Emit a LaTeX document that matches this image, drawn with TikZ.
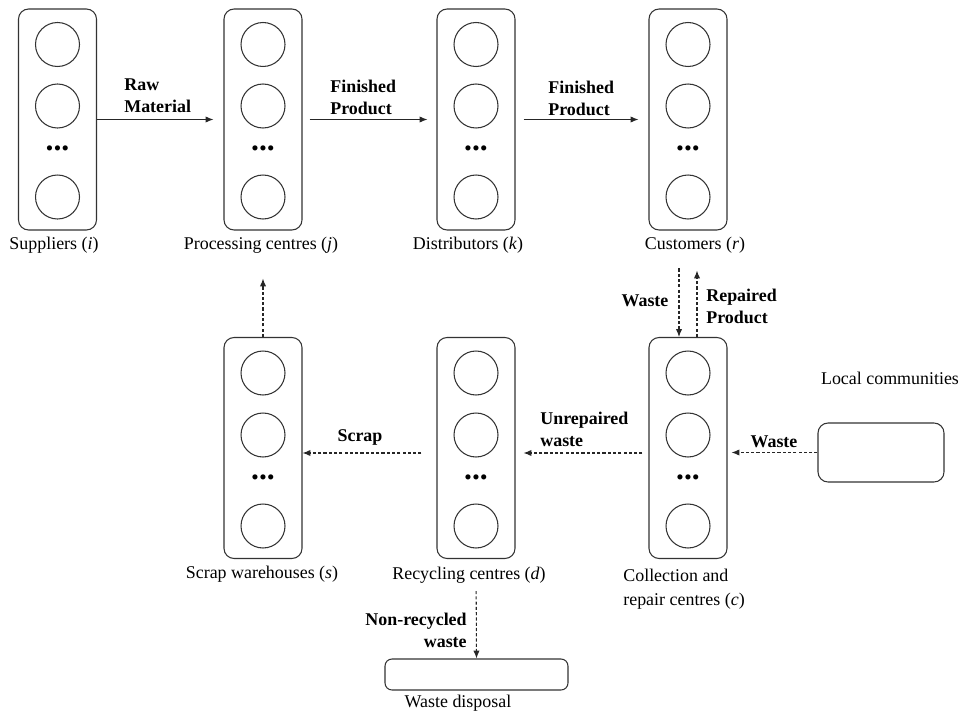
\documentclass[tikz,border=0pt]{standalone}
\usepackage{fontspec}
\setmainfont{Liberation Serif}
\usetikzlibrary{arrows.meta}

\begin{document}
\begin{tikzpicture}[x=0.02cm, y=-0.02cm,
    font=\fontsize{10.2}{12.5}\selectfont,
    colbox/.style={draw=black!80, line width=0.6pt, rounded corners=0.2cm, minimum width=1.56cm, minimum height=4.42cm, inner sep=0pt},
    endbox/.style={draw=black!80, line width=0.6pt, rounded corners=0.2cm, inner sep=0pt},
    slot/.style={circle, draw=black!80, line width=0.6pt, minimum size=0.88cm, inner sep=0pt},
    ellip/.style={font=\fontsize{18}{18}\selectfont\bfseries, inner sep=0pt},
    flowlbl/.style={font=\fontsize{10.2}{12.5}\selectfont\bfseries, align=left, inner sep=0pt},
    celabel/.style={inner sep=0pt, align=left},
    flow/.style={-{Latex[length=4.5pt,width=3.6pt]}, line width=0.6pt, black!85},
    dflow/.style={flow, dash pattern=on 1.8pt off 1.2pt}]
        \useasboundingbox (0,0) rectangle (963,713);

        % Nodes (top row)
        \node[colbox] (sup) at (57.5, 119.5) {};
        \node[slot] (sup1) at (57.5, 44.5) {};
        \node[slot] (sup2) at (57.5, 106) {};
        \node[ellip] (sup3) at (57.5, 148) {...};
        \node[slot] (sup4) at (57.5, 197) {};

        \node[colbox] (pro) at (263, 119.5) {};
        \node[slot] (pro1) at (263, 44.5) {};
        \node[slot] (pro2) at (263, 106) {};
        \node[ellip] (pro3) at (263, 148) {...};
        \node[slot] (pro4) at (263, 197) {};

        \node[colbox] (dis) at (476, 119.5) {};
        \node[slot] (dis1) at (476, 44.5) {};
        \node[slot] (dis2) at (476, 106) {};
        \node[ellip] (dis3) at (476, 148) {...};
        \node[slot] (dis4) at (476, 197) {};

        \node[colbox] (cus) at (688, 119.5) {};
        \node[slot] (cus1) at (688, 44.5) {};
        \node[slot] (cus2) at (688, 106) {};
        \node[ellip] (cus3) at (688, 148) {...};
        \node[slot] (cus4) at (688, 197) {};

        % Nodes (bottom row)
        \node[colbox] (scr) at (263, 448) {};
        \node[slot] (scr1) at (263, 373) {};
        \node[slot] (scr2) at (263, 435) {};
        \node[ellip] (scr3) at (263, 477) {...};
        \node[slot] (scr4) at (263, 526) {};

        \node[colbox] (rec) at (476, 448) {};
        \node[slot] (rec1) at (476, 373) {};
        \node[slot] (rec2) at (476, 435) {};
        \node[ellip] (rec3) at (476, 477) {...};
        \node[slot] (rec4) at (476, 526) {};

        \node[colbox] (col) at (688, 448) {};
        \node[slot] (col1) at (688, 373) {};
        \node[slot] (col2) at (688, 435) {};
        \node[ellip] (col3) at (688, 477) {...};
        \node[slot] (col4) at (688, 526) {};

        \node[endbox, minimum width=2.52cm, minimum height=1.18cm] (loc) at (881, 452.5) {};
        \node[endbox, rounded corners=0.14cm, minimum width=3.66cm, minimum height=0.62cm] (wd) at (476.5, 674.5) {};

        % Edges
        \draw[flow, shorten >=0.2cm] (sup) -- (pro);
        \draw[flow, shorten <=0.14cm, shorten >=0.18cm] (pro) -- (dis);
        \draw[flow, shorten <=0.16cm, shorten >=0.2cm] (dis) -- (cus);
        \draw[dflow, shorten <=0.76cm] ([xshift=-0.18cm]cus.south) -- ([xshift=-0.18cm]col.north);
        \draw[dflow, shorten >=0.8cm] ([xshift=0.18cm]col.north) -- ([xshift=0.18cm]cus.south);
        \draw[dflow, shorten <=0.12cm, shorten >=0.16cm] ([yshift=-0.1cm]col.west) -- ([yshift=-0.1cm]rec.east);
        \draw[dflow, shorten <=0.3cm] ([yshift=-0.1cm]rec.west) -- ([yshift=-0.1cm]scr.east);
        \draw[dflow, shorten >=0.96cm] (scr) -- (pro);
        \draw[dflow, shorten >=0.08cm] (loc.west) -- (loc.west -| col.east);
        \draw[dflow, shorten <=0.64cm] (rec.south) -- (wd.north);

        % Labels
        \node[flowlbl, anchor=west] (rawlbl) at (124, 96) {Raw\\Material};
        \node[flowlbl, anchor=west] (fin1lbl) at (330, 97) {Finished\\Product};
        \node[flowlbl, anchor=west] (fin2lbl) at (548, 98.5) {Finished\\Product};
        \node[flowlbl] (wastelbl) at (645, 301) {Waste};
        \node[flowlbl, anchor=west] (replbl) at (706, 306) {Repaired\\Product};
        \node[flowlbl] (scraplbl) at (360, 437) {Scrap};
        \node[flowlbl, anchor=west] (unreplbl) at (540, 429) {Unrepaired\\waste};
        \node[flowlbl] (locwastelbl) at (774, 442) {Waste};
        \node[flowlbl, anchor=east, align=right] (nonreclbl) at (467, 630) {Non-recycled\\waste};

        \node[celabel] (suplbl) at (54, 245) {Suppliers (\textit{i})};
        \node[celabel] (prolbl) at (261, 245) {Processing centres (\textit{j})};
        \node[celabel] (dislbl) at (468, 245) {Distributors (\textit{k})};
        \node[celabel] (cuslbl) at (695, 245) {Customers (\textit{r})};
        \node[celabel] (scrlbl) at (262, 574) {Scrap warehouses (\textit{s})};
        \node[celabel] (reclbl) at (469, 575) {Recycling centres (\textit{d})};
        \node[celabel, anchor=west, font=\fontsize{10.2}{14}\selectfont] (collbl) at (623, 589) {Collection and\\repair centres (\textit{c})};
        \node[celabel] (loclbl) at (890, 378) {Local communities};
        \node[celabel] (wdlbl) at (458, 703) {Waste disposal};
    \end{tikzpicture}
\end{document}
